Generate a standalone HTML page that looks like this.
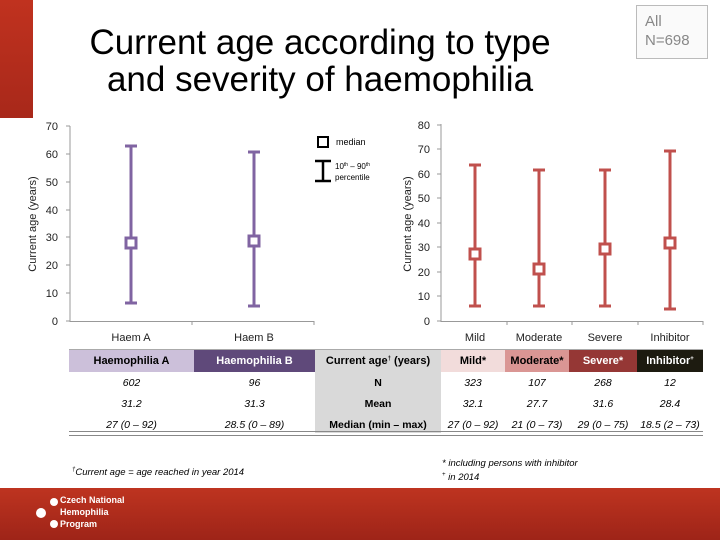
<!DOCTYPE html>
<html><head><meta charset="utf-8"><style>
body{margin:0;width:720px;height:540px;overflow:hidden;background:#fff;font-family:"Liberation Sans",sans-serif;position:relative}
.t{position:absolute;text-align:center}
.s{font-size:6px;position:relative;top:-4px;line-height:0}
</style></head><body>
<div style="position:absolute;left:0;top:0;width:33px;height:118px;background:linear-gradient(#c0321f,#a8281a)"></div>
<div class="t" style="left:40px;top:24px;width:560px;font-size:35px;line-height:37px;color:#000">Current age according to type<br>and severity of haemophilia</div>
<div style="position:absolute;left:636px;top:5px;width:72px;height:54px;border:1px solid #bbb;background:#fafafa;color:#888;font-size:15px;line-height:19px;padding:6px 0 0 8px;box-sizing:border-box">All<br>N=698</div>
<svg width="720" height="540" style="position:absolute;left:0;top:0" font-family="Liberation Sans,sans-serif">
<g font-size="11" fill="#222" text-anchor="end">
<text x="58" y="325">0</text><text x="58" y="297">10</text><text x="58" y="269">20</text><text x="58" y="241">30</text><text x="58" y="214">40</text><text x="58" y="186">50</text><text x="58" y="158">60</text><text x="58" y="130">70</text>
<text x="430" y="325">0</text><text x="430" y="300">10</text><text x="430" y="276">20</text><text x="430" y="251">30</text><text x="430" y="227">40</text><text x="430" y="202">50</text><text x="430" y="178">60</text><text x="430" y="153">70</text><text x="430" y="129">80</text>
</g>
<g stroke="#999" stroke-width="1">
<line x1="70" y1="126" x2="70" y2="322"/><line x1="70" y1="321.5" x2="314" y2="321.5"/><line x1="314" y1="321" x2="314" y2="325"/><line x1="192" y1="321" x2="192" y2="325"/>
<line x1="66" y1="321" x2="70" y2="321"/><line x1="66" y1="293" x2="70" y2="293"/><line x1="66" y1="265" x2="70" y2="265"/><line x1="66" y1="237" x2="70" y2="237"/><line x1="66" y1="210" x2="70" y2="210"/><line x1="66" y1="182" x2="70" y2="182"/><line x1="66" y1="154" x2="70" y2="154"/><line x1="66" y1="126" x2="70" y2="126"/>
<line x1="441" y1="124" x2="441" y2="322"/><line x1="441" y1="321.5" x2="703" y2="321.5"/><line x1="507" y1="321" x2="507" y2="325"/><line x1="572" y1="321" x2="572" y2="325"/><line x1="638" y1="321" x2="638" y2="325"/><line x1="703" y1="321" x2="703" y2="325"/>
<line x1="437" y1="321" x2="441" y2="321"/><line x1="437" y1="296" x2="441" y2="296"/><line x1="437" y1="272" x2="441" y2="272"/><line x1="437" y1="247" x2="441" y2="247"/><line x1="437" y1="223" x2="441" y2="223"/><line x1="437" y1="198" x2="441" y2="198"/><line x1="437" y1="174" x2="441" y2="174"/><line x1="437" y1="149" x2="441" y2="149"/><line x1="437" y1="125" x2="441" y2="125"/>
</g>
<text transform="translate(36,224) rotate(-90)" font-size="11" text-anchor="middle" fill="#222">Current age (years)</text>
<text transform="translate(411,224) rotate(-90)" font-size="11" text-anchor="middle" fill="#222">Current age (years)</text>
<g font-size="11" fill="#222" text-anchor="middle">
<text x="131" y="341">Haem A</text><text x="254" y="341">Haem B</text>
<text x="475" y="341">Mild</text><text x="539" y="341">Moderate</text><text x="605" y="341">Severe</text><text x="670" y="341">Inhibitor</text>
</g>
<g stroke="#8064a2" stroke-width="3" fill="#fff">
<line x1="131" y1="146" x2="131" y2="303"/><line x1="125" y1="146" x2="137" y2="146"/><line x1="125" y1="303" x2="137" y2="303"/><rect x="126" y="238" width="10" height="10"/>
<line x1="254" y1="152" x2="254" y2="306"/><line x1="248" y1="152" x2="260" y2="152"/><line x1="248" y1="306" x2="260" y2="306"/><rect x="249" y="236" width="10" height="10"/>
</g>
<g stroke="#c0504d" stroke-width="3" fill="#fff">
<line x1="475" y1="165" x2="475" y2="306"/><line x1="469" y1="165" x2="481" y2="165"/><line x1="469" y1="306" x2="481" y2="306"/><rect x="470" y="249" width="10" height="10"/>
<line x1="539" y1="170" x2="539" y2="306"/><line x1="533" y1="170" x2="545" y2="170"/><line x1="533" y1="306" x2="545" y2="306"/><rect x="534" y="264" width="10" height="10"/>
<line x1="605" y1="170" x2="605" y2="306"/><line x1="599" y1="170" x2="611" y2="170"/><line x1="599" y1="306" x2="611" y2="306"/><rect x="600" y="244" width="10" height="10"/>
<line x1="670" y1="151" x2="670" y2="309"/><line x1="664" y1="151" x2="676" y2="151"/><line x1="664" y1="309" x2="676" y2="309"/><rect x="665" y="238" width="10" height="10"/>
</g>
<rect x="318" y="137" width="10" height="10" fill="none" stroke="#000" stroke-width="2"/>
<text x="336" y="145" font-size="9">median</text>
<g stroke="#000" stroke-width="2.5"><line x1="315" y1="161" x2="331" y2="161"/><line x1="315" y1="181" x2="331" y2="181"/><line x1="323" y1="161" x2="323" y2="181"/></g>
<text x="335" y="169" font-size="8">10<tspan font-size="5" dy="-3">th</tspan><tspan dy="3"> – 90</tspan><tspan font-size="5" dy="-3">th</tspan></text>
<text x="335" y="180" font-size="8">percentile</text>
</svg>
<div style="position:absolute;left:69px;top:349px;width:634px;height:86px">
<div style="position:absolute;left:246px;top:0;width:126px;height:84px;background:#d9d9d9"></div>
<div style="position:absolute;left:0;top:0;width:634px;height:1px;background:#aaa"></div>
<div style="position:absolute;left:0;top:82px;width:634px;height:3px;border-top:1px solid #888;border-bottom:1px solid #888"></div>
</div>
<div style="position:absolute;top:350px;height:22px;left:69px;width:634px;font-size:11px;font-weight:bold;line-height:22px">
<div class="t" style="left:0;width:125px;height:22px;background:#ccc0da;color:#000">Haemophilia A</div>
<div class="t" style="left:125px;width:121px;height:22px;background:#5f497a;color:#fff">Haemophilia B</div>
<div class="t" style="left:246px;width:126px;height:22px;background:#d9d9d9;color:#000">Current age<span class="s">†</span> (years)</div>
<div class="t" style="left:372px;width:64px;height:22px;background:#f2dcdb;color:#000">Mild*</div>
<div class="t" style="left:436px;width:64px;height:22px;background:#da9694;color:#000">Moderate*</div>
<div class="t" style="left:500px;width:68px;height:22px;background:#953735;color:#fff">Severe*</div>
<div class="t" style="left:568px;width:66px;height:22px;background:#1d1b10;color:#fff">Inhibitor<span class="s">+</span></div>
</div>
<div style="position:absolute;left:69px;top:373px;width:634px;font-size:10.5px;line-height:21px">
<div class="t" style="left:0;width:125px;font-style:italic">602<br>31.2<br>27 (0 – 92)</div>
<div class="t" style="left:125px;width:121px;font-style:italic">96<br>31.3<br>28.5 (0 – 89)</div>
<div class="t" style="left:246px;width:126px;font-weight:bold">N<br>Mean<br>Median (min – max)</div>
<div class="t" style="left:372px;width:64px;font-style:italic">323<br>32.1<br>27 (0 – 92)</div>
<div class="t" style="left:436px;width:64px;font-style:italic">107<br>27.7<br>21 (0 – 73)</div>
<div class="t" style="left:500px;width:68px;font-style:italic">268<br>31.6<br>29 (0 – 75)</div>
<div class="t" style="left:568px;width:66px;font-style:italic">12<br>28.4<br>18.5 (2 – 73)</div>
</div>
<div style="position:absolute;left:72px;top:467px;font-size:9.5px;font-style:italic"><span class="s">†</span>Current age = age reached in year 2014</div>
<div style="position:absolute;left:442px;top:457px;font-size:9.5px;font-style:italic;line-height:14px">* including persons with inhibitor<br><span class="s">+</span> in 2014</div>
<div style="position:absolute;left:0;top:488px;width:720px;height:52px;background:linear-gradient(#be3420,#9e2418)"></div>
<div style="position:absolute;left:60px;top:494px;color:#fff;font-size:9px;line-height:12px;font-weight:bold">Czech National<br>Hemophilia<br>Program</div>
<div style="position:absolute;left:36px;top:508px;width:10px;height:10px;border-radius:50%;background:#fff"></div>
<div style="position:absolute;left:50px;top:498px;width:8px;height:8px;border-radius:50%;background:#fff"></div>
<div style="position:absolute;left:50px;top:520px;width:8px;height:8px;border-radius:50%;background:#fff"></div>
</body></html>
